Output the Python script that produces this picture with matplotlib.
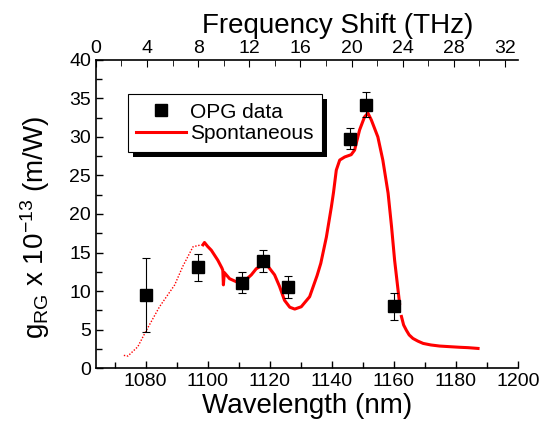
import numpy as np
import matplotlib
matplotlib.use("Agg")
import matplotlib.pyplot as plt
from matplotlib.ticker import MultipleLocator
from matplotlib.lines import Line2D
from matplotlib.patches import Rectangle

plt.rcParams['font.family'] = ['Liberation Sans', 'DejaVu Sans']
plt.rcParams['mathtext.default'] = 'regular'

# OPG data points (wavelength nm, gain, error)
opg_wl = [1080, 1097, 1111, 1118, 1126, 1146, 1151, 1160]
opg_g = [9.5, 13.1, 11.1, 13.9, 10.5, 29.8, 34.2, 8.0]
opg_err = [4.8, 1.75, 1.35, 1.45, 1.45, 1.35, 1.6, 1.75]

# spontaneous curve, thin dotted part (short wavelength side)
dot_wl = [1073.0, 1074.3, 1077.5, 1080.0, 1084.5, 1089.4, 1092.0, 1095.3, 1098.0]
dot_g = [1.65, 1.56, 2.77, 4.7, 7.96, 10.8, 13.2, 15.75, 16.0]

# spontaneous curve, thick part up to the gap
sp1_wl = [1098.5, 1099.0, 1100.0, 1101.2, 1103.3, 1104.6, 1104.9, 1105.1, 1105.4,
          1107.1, 1109.3, 1111.9, 1114.1, 1115.7, 1117.9, 1119.5, 1121.6, 1123.2,
          1124.8, 1126.5, 1128.1, 1130.2, 1132.9, 1135.3, 1136.5, 1138.3, 1139.9,
          1140.6, 1141.5, 1142.6, 1144.2, 1146.3, 1147.4, 1149.0, 1150.6, 1151.7,
          1152.8, 1154.9, 1156.5, 1158.2, 1159.3, 1160.3, 1161.9]
sp1_g = [16.0, 16.3, 15.8, 15.3, 14.0, 13.0, 12.7, 10.8, 12.4,
         11.6, 11.2, 11.3, 12.1, 12.9, 13.4, 13.2, 12.1, 10.6,
         8.8, 7.9, 7.66, 7.96, 9.26, 12.0, 13.6, 17.0, 20.9,
         22.8, 25.7, 27.0, 27.4, 27.7, 28.3, 30.9, 32.6, 33.1,
         32.2, 30.0, 27.0, 22.7, 18.4, 14.0, 8.4]

# spontaneous curve, tail after the gap
sp2_wl = [1162.5, 1163.2, 1164.1, 1165.0, 1166.2, 1167.8, 1169.5, 1172.0, 1174.8,
          1178.0, 1181.3, 1184.0, 1187.2]
sp2_g = [6.7, 5.6, 4.9, 4.3, 3.85, 3.5, 3.2, 3.0, 2.86,
         2.78, 2.7, 2.65, 2.55]

fig = plt.figure(figsize=(5.45, 4.28), dpi=100)
ax = fig.add_axes([0.176, 0.140, 0.774, 0.720])

ax.plot(dot_wl, dot_g, color='red', lw=1.0, ls=(0, (1, 1.2)))
ax.plot(sp1_wl, sp1_g, color='red', lw=2.2)
ax.plot(sp2_wl, sp2_g, color='red', lw=2.2)
ax.errorbar(opg_wl, opg_g, yerr=opg_err, fmt='s', color='black', ms=8,
            ecolor='black', elinewidth=0.8, capsize=3, capthick=0.8, zorder=5)

ax.set_xlim(1064, 1200)
ax.set_ylim(0, 40)
ax.xaxis.set_major_locator(MultipleLocator(20))
ax.xaxis.set_minor_locator(MultipleLocator(10))
ax.yaxis.set_major_locator(MultipleLocator(5))
ax.yaxis.set_minor_locator(MultipleLocator(2.5))
ax.tick_params(which='both', direction='in', labelsize=14, width=1)
ax.tick_params(which='major', length=5)
ax.tick_params(which='minor', length=4)
ax.spines['right'].set_visible(False)
ax.spines['top'].set_visible(False)
for s in ['left', 'bottom']:
    ax.spines[s].set_linewidth(1.2)

ax.set_xlabel('Wavelength (nm)', fontsize=20, labelpad=2)
ax.set_ylabel('g$_{RG}$ x 10$^{-13}$ (m/W)', fontsize=20)
ax.yaxis.set_label_coords(-0.105, 0.456)

top = ax.twiny()
top.set_xlim(0, 33)
top.xaxis.set_major_locator(MultipleLocator(4))
top.xaxis.set_minor_locator(MultipleLocator(2))
top.tick_params(which='both', direction='in', labelsize=14, pad=2)
top.tick_params(which='major', length=5)
top.tick_params(which='minor', length=4)
top.spines['right'].set_visible(False)
top.spines['left'].set_visible(False)
top.spines['bottom'].set_visible(False)
top.spines['top'].set_linewidth(1.2)
top.set_xlabel('Frequency Shift (THz)', fontsize=20)
top.xaxis.set_label_coords(0.572, 1.088)

handles = [Line2D([], [], ls='none', marker='s', color='black', ms=8),
           Line2D([], [], color='red', lw=2.2)]
leg = top.legend(handles, ['OPG data', 'Spontaneous'], loc='upper left',
                 bbox_to_anchor=(0.076, 0.888), fontsize=15, frameon=True,
                 fancybox=False, framealpha=1, edgecolor='black',
                 handlelength=2.4, borderpad=0.4, labelspacing=0.12,
                 handletextpad=0.2, borderaxespad=0)
leg.get_frame().set_linewidth(0.8)
leg.set_zorder(10)

# black drop shadow behind the legend box
fig.canvas.draw()
bb = leg.get_window_extent().transformed(fig.transFigure.inverted())
dx, dy = 5 / 545, 5 / 428
shadow = Rectangle((bb.x0 + dx, bb.y0 - dy), bb.width, bb.height,
                   transform=fig.transFigure, facecolor='black',
                   edgecolor='none', zorder=9)
top.add_artist(shadow)
shadow.set_clip_on(False)

fig.savefig('out.png', dpi=100)
